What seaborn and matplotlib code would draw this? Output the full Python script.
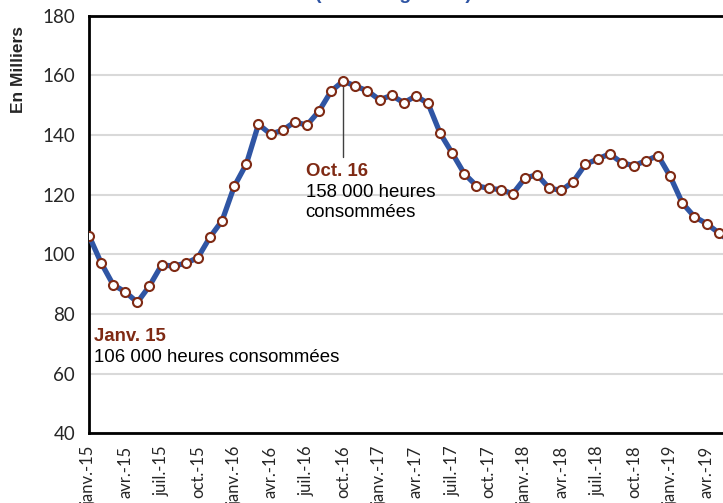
import pandas as pd
import matplotlib.pyplot as plt
import seaborn as sns

# monthly values (thousands of hours), janv.-15 .. juin-19
values = [106.3, 97.2, 89.8, 87.4, 83.9, 89.4, 96.4, 96.1, 97.0, 98.9, 105.8, 111.3,
          122.8, 130.3, 143.6, 140.3, 141.6, 144.4, 143.3, 148.0, 154.7, 158.1, 156.4, 154.8,
          151.8, 153.3, 150.8, 153.1, 150.6, 140.6, 133.9, 127.0, 123.0, 122.1, 121.7, 120.3,
          125.5, 126.7, 122.2, 121.4, 124.4, 130.2, 131.9, 133.7, 130.7, 129.7, 131.4, 133.1,
          126.1, 117.2, 112.6, 110.3, 107.2, 104.0]
tick_labels = ['janv.-15', 'avr.-15', 'juil.-15', 'oct.-15',
               'janv.-16', 'avr.-16', 'juil.-16', 'oct.-16',
               'janv.-17', 'avr.-17', 'juil.-17', 'oct.-17',
               'janv.-18', 'avr.-18', 'juil.-18', 'oct.-18',
               'janv.-19', 'avr.-19']
peak_month = 21  # oct.-16
peak_value = 158.1

df = pd.DataFrame({'mois': range(len(values)), 'heures': values})

blue = '#2F55A4'
dark_red = '#7F2A14'

sns.set_style('white')
plt.rcParams['font.family'] = ['Liberation Sans', 'DejaVu Sans']

fig = plt.figure(figsize=(7.23, 5.03), dpi=100)
ax = fig.add_axes([0.123, 0.1386, 0.9045, 0.8302])

ax.yaxis.grid(True, color='#d9d9d9', linewidth=1.5)
ax.set_axisbelow(True)

sns.lineplot(data=df, x='mois', y='heures', ax=ax, color=blue, linewidth=3.8,
             marker='o', markersize=6.5, markerfacecolor='white',
             markeredgecolor=dark_red, markeredgewidth=1.5, zorder=3)

ax.set_xlim(0, 54)
ax.set_ylim(40, 180)
ax.set_yticks(range(40, 181, 20))
ax.set_xticks(range(0, 3 * len(tick_labels), 3))
ax.set_xticklabels(tick_labels, rotation=90, fontfamily='Lato', fontsize=12)
for lab in ax.get_yticklabels():
    lab.set_fontfamily('Lato')
    lab.set_fontsize(13.5)
ax.tick_params(axis='y', direction='out', length=6, width=1.5, color='black', pad=4)
ax.tick_params(axis='x', direction='in', length=5, width=1.5, color='black', pad=9)
ax.set_xlabel('')
ax.set_ylabel('')

for side in ['left', 'bottom', 'top']:
    ax.spines[side].set_color('black')
    ax.spines[side].set_linewidth(2)
ax.spines['right'].set_visible(False)

# annotations
ax.plot([peak_month, peak_month], [peak_value, 132.6], color='#404040', linewidth=1, zorder=2)
ax.text(17.9, 126.4, 'Oct. 16', color=dark_red, fontweight='bold', fontsize=13.4,
        va='baseline')
ax.text(17.9, 119.2, '158 000 heures', color='black', fontsize=13.4, va='baseline')
ax.text(17.9, 112.5, 'consommées', color='black', fontsize=13.4, va='baseline')
ax.text(0.45, 71.0, 'Janv. 15', color=dark_red, fontweight='bold', fontsize=13.4,
        va='baseline')
ax.text(0.45, 64.0, '106 000 heures consommées', color='black', fontsize=13.4,
        va='baseline')

fig.text(0.026, 0.861, 'En Milliers', rotation=90, fontweight='bold', fontsize=12.5,
         ha='center', va='center')
fig.text(0.544, 0.994, '(12 mois glissés)', color='#2F55A4', fontweight='bold',
         fontsize=14, ha='center', va='bottom')

fig.savefig('out.png', dpi=100)
